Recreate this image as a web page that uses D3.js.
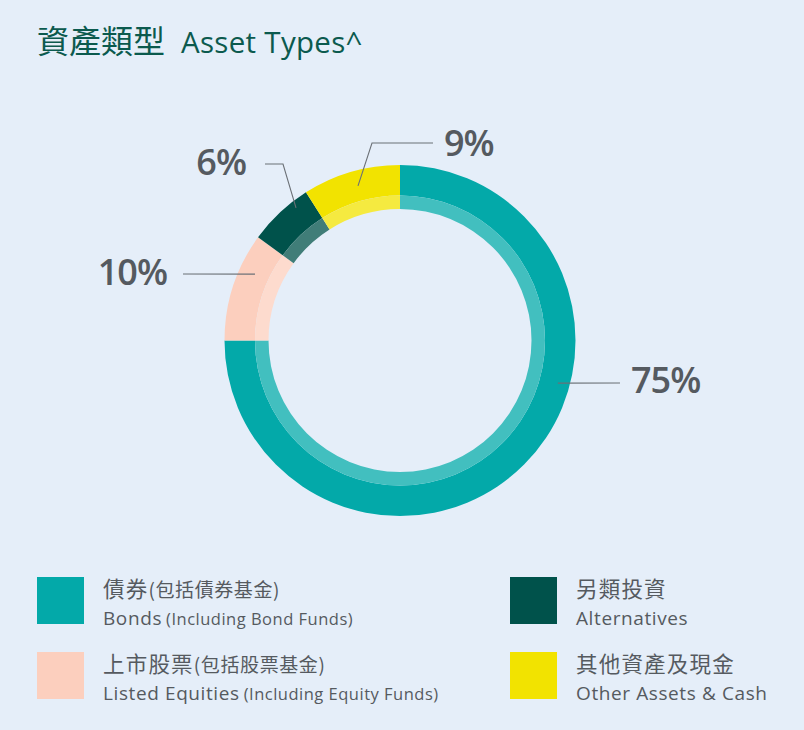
<!DOCTYPE html>
<html>
<head>
<meta charset="utf-8">
<script src="https://cdn.jsdelivr.net/npm/d3@7"></script>
<style>
  html, body { margin: 0; padding: 0; background: #E5EEF9; }
  svg { display: block; }
</style>
</head>
<body>
<svg id="chart" width="804" height="730"></svg>
<script>
// ---- data ----
const categoriesZh = ["債券", "上市股票", "另類投資", "其他資產及現金"];
const categoriesZhNote = ["(包括債券基金)", "(包括股票基金)", "", ""];
const categoriesEn = ["Bonds", "Listed Equities", "Alternatives", "Other Assets & Cash"];
const categoriesEnNote = ["(Including Bond Funds)", "(Including Equity Funds)", "", ""];
const values = [75, 10, 6, 9];
const valueLabels = ["75%", "10%", "6%", "9%"];
const titleZh = "資產類型";
const titleEn = "Asset Types^";

// ---- styles ----
const colors = ["#03A9A9", "#FCCFBE", "#00524B", "#F2E300"];
const bg = "#E5EEF9";
const textGray = "#555A60";
const titleColor = "#0B5A4E";
const latin = "'Open Sans', 'Noto Sans', sans-serif";
const cjk = "'Noto Sans CJK TC', 'Noto Sans CJK SC', sans-serif";

const svg = d3.select("#chart");
svg.append("rect").attr("width", 804).attr("height", 730).attr("fill", bg);

// title
const title = svg.append("text").attr("x", 37).attr("y", 53).attr("fill", titleColor);
title.append("tspan").attr("font-family", cjk).attr("font-size", 32).attr("font-weight", 400).text(titleZh);
title.append("tspan").attr("font-family", latin).attr("font-size", 29.5).attr("font-weight", 500).attr("letter-spacing", 0.3).attr("dx", 16).text(titleEn);

// donut
const cx = 400, cy = 340.5;
const rOuter = 175.5, rMid = 145, rInner = 131.5;
const g = svg.append("g").attr("transform", `translate(${cx},${cy})`);
const pie = d3.pie().sort(null).value(d => d);
const arcs = pie(values);
const arcOuter = d3.arc().innerRadius(rMid).outerRadius(rOuter);
const arcInner = d3.arc().innerRadius(rInner).outerRadius(rMid);

g.selectAll("path.outer").data(arcs).join("path")
  .attr("class", "outer")
  .attr("d", arcOuter)
  .attr("fill", (d, i) => colors[i]);
g.selectAll("path.inner").data(arcs).join("path")
  .attr("class", "inner")
  .attr("d", arcInner)
  .attr("fill", (d, i) => d3.interpolateRgb(colors[i], "#ffffff")(0.25));

// leader lines & labels: layout per slice (angle in degrees from top, radius, path points)
const labelLayout = [
  { ang: 105.1, r: 163.5, pts: [[620, 383]], tx: 631, ty: 393, anchor: "start" },
  { ang: 294.6, r: 159.5, pts: [[183, 274]], tx: 167, ty: 285, anchor: "end" },
  { ang: 321.9, r: 168.5, pts: [[283, 164], [265, 164]], tx: 246, ty: 175, anchor: "end" },
  { ang: 344.8, r: 160.2, pts: [[372, 143], [433, 143]], tx: 444, ty: 156, anchor: "start" }
];

const lg = svg.append("g");
labelLayout.forEach((L, i) => {
  const a = L.ang * Math.PI / 180;
  const start = [cx + L.r * Math.sin(a), cy - L.r * Math.cos(a)];
  const line = d3.line();
  lg.append("path")
    .attr("d", line([start, ...L.pts]))
    .attr("fill", "none")
    .attr("stroke", "#6B7076")
    .attr("stroke-width", 1.1);
  lg.append("text")
    .attr("x", L.tx).attr("y", L.ty)
    .attr("text-anchor", L.anchor)
    .attr("font-family", latin)
    .attr("font-size", 36)
    .attr("font-weight", 600)
    .attr("letter-spacing", -1)
    .attr("fill", textGray)
    .text(valueLabels[i]);
});

// legend
const legendPos = [[37, 577], [37, 652], [510, 577], [510, 652]];
const leg = svg.append("g");
categoriesEn.forEach((c, i) => {
  const [x, y] = legendPos[i];
  leg.append("rect").attr("x", x).attr("y", y).attr("width", 47).attr("height", 47).attr("fill", colors[i]);
  const t1 = leg.append("text").attr("x", x + 66).attr("y", y + 20).attr("fill", textGray);
  t1.append("tspan").attr("font-family", cjk).attr("font-size", 21.5).attr("letter-spacing", 1.2).text(categoriesZh[i]);
  if (categoriesZhNote[i]) {
    t1.append("tspan").attr("font-family", cjk).attr("font-size", 19).attr("letter-spacing", 0.6).text(categoriesZhNote[i]);
  }
  const t2 = leg.append("text").attr("x", x + 66).attr("y", y + 48).attr("fill", textGray);
  t2.append("tspan").attr("font-family", latin).attr("font-size", 19).attr("letter-spacing", 0.6).text(c);
  if (categoriesEnNote[i]) {
    t2.append("tspan").attr("font-family", latin).attr("font-size", 16.5).attr("letter-spacing", 0.5).attr("dx", 4).text(categoriesEnNote[i]);
  }
});
</script>
</body>
</html>
